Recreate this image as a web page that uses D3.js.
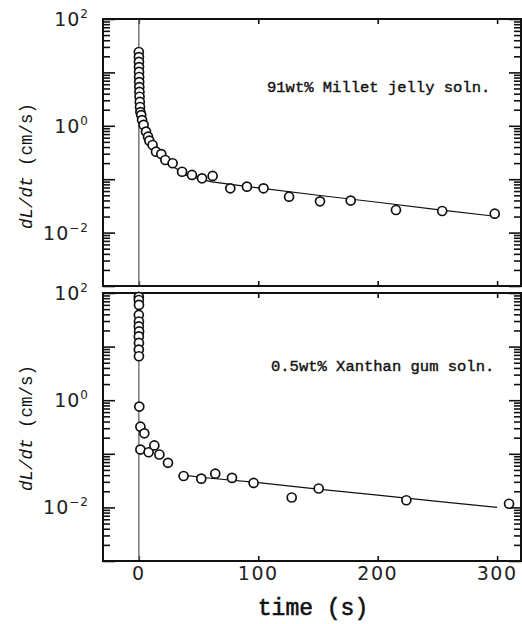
<!DOCTYPE html>
<html lang="en">
  <head>
    <meta charset="utf-8" />
    <title>dL/dt vs time</title>
    <script src="https://d3js.org/d3.v7.min.js"></script>
    <style>
      body { margin: 0; background: white; }
      .ticklab { font-family: "DejaVu Sans", sans-serif; fill: #222; }
      .mono { font-family: "Liberation Mono", "DejaVu Sans Mono", monospace; fill: #111; }
    </style>
  </head>
  <body>
    <svg width="522" height="624"></svg>
    <script type="text/javascript">
      // time axis ticks and y decade labels
      const timeTicks = [0, 100, 200, 300];
      const decadeLabels = [2, 0, -2];

      // 91 wt% millet jelly: measured points
      const milletTime = [0, 0.05, 0.1, 0.15, 0.2, 0.25, 0.3, 0.4, 0.5, 0.6, 0.8, 1.0, 1.3, 2.0,
        2.7, 4, 6, 7.7, 8.8, 11.5, 14.4, 18.8, 22.2, 28.3, 36.2, 44.5, 52.9, 61.8, 76.6, 90.5,
        104.4, 125.8, 151.7, 177.4, 215.3, 254, 298];
      const milletRate = [24.1, 19.4, 15.7, 12.6, 10.2, 8.2, 6.6, 5.3, 4.3, 3.5, 2.8, 2.25, 1.81, 1.59,
        1.28, 1.04, 0.78, 0.625, 0.526, 0.437, 0.327, 0.296, 0.229, 0.199, 0.138, 0.12, 0.104, 0.115,
        0.0675, 0.0725, 0.0675, 0.047, 0.0385, 0.0398, 0.0265, 0.0254, 0.0226];
      // millet fit curve
      const milletFitTime = [0.3, 0.6, 1, 2, 4, 7, 10, 15, 20, 30, 40, 60, 80, 100, 150, 200, 250, 300];
      const milletFitRate = [6.6, 3.6, 2.3, 1.45, 0.95, 0.64, 0.47, 0.33, 0.25, 0.165, 0.118, 0.09,
        0.078, 0.069, 0.05, 0.037, 0.027, 0.02];

      // 0.5 wt% xanthan gum: measured points
      const xanthanTime = [0, 0, 0.1, 0, 0.1, 0, 0.2, 0, 0.1, 0, 0.1, 0.4, 1.3, 4.6, 1.3, 8.2, 13,
        17.2, 24.4, 37.5, 52.3, 64, 78, 96.1, 128, 150.6, 224, 310];
      const xanthanRate = [85, 74, 60, 39, 29.4, 23.8, 19.2, 15.5, 11.7, 8.8, 6.6, 0.76, 0.32, 0.241,
        0.12, 0.107, 0.143, 0.097, 0.068, 0.0385, 0.0344, 0.0426, 0.0355, 0.0286, 0.0153, 0.0225,
        0.0136, 0.0117];
      // xanthan fit line
      const xanthanFitTime = [37, 60, 100, 150, 200, 250, 300];
      const xanthanFitRate = [0.04, 0.035, 0.029, 0.022, 0.017, 0.013, 0.01];

      const panelLabels = ["91wt% Millet jelly soln.", "0.5wt% Xanthan gum soln."];

      const svg = d3.select("svg");
      const left = 103, right = 521;

      const x = d3.scaleLinear().domain([-30, 320]).range([left, right]);

      const panels = [
        { top: 19, bottom: 286, t: milletTime, v: milletRate, ft: milletFitTime, fv: milletFitRate,
          label: panelLabels[0], labelX: 267, labelY: 92, titleY: 166 },
        { top: 293, bottom: 561, t: xanthanTime, v: xanthanRate, ft: xanthanFitTime, fv: xanthanFitRate,
          label: panelLabels[1], labelX: 271, labelY: 371, titleY: 428 },
      ];

      panels.forEach((p, pi) => {
        const y = d3.scaleLog().domain([1e-3, 1e2]).range([p.bottom, p.top]);
        const g = svg.append("g");

        const allTicks = y.ticks();
        const isMajor = (d) => Math.abs(Math.log10(d) - Math.round(Math.log10(d))) < 1e-6;
        const major = allTicks.filter(isMajor);
        const minor = allTicks.filter((d) => !isMajor(d));

        // y ticks, inward on both sides
        const addY = (axisFn, xPos, vals, len) => {
          g.append("g")
            .attr("transform", `translate(${xPos},0)`)
            .call(axisFn(y).tickValues(vals).tickSize(-len).tickFormat(""))
            .call((s) => s.select(".domain").remove())
            .call((s) => s.selectAll("line").attr("stroke", "#111").attr("stroke-width", 1.6));
        };
        addY(d3.axisLeft, left, major, 12);
        addY(d3.axisLeft, left, minor, 7);
        addY(d3.axisRight, right, major, 12);
        addY(d3.axisRight, right, minor, 7);

        // x ticks, inward top and bottom
        const addX = (axisFn, yPos) => {
          g.append("g")
            .attr("transform", `translate(0,${yPos})`)
            .call(axisFn(x).tickValues(timeTicks).tickSize(-5).tickFormat(""))
            .call((s) => s.select(".domain").remove())
            .call((s) => s.selectAll("line").attr("stroke", "#111").attr("stroke-width", 1.6));
        };
        addX(d3.axisBottom, p.bottom);
        addX(d3.axisTop, p.top);

        // zero-time line
        g.append("line")
          .attr("x1", x(0)).attr("x2", x(0))
          .attr("y1", p.top).attr("y2", p.bottom)
          .attr("stroke", "#777").attr("stroke-width", 1.5);

        // fit curve
        const fit = p.ft.map((t, i) => [t, p.fv[i]]);
        g.append("path")
          .datum(fit)
          .attr("fill", "none")
          .attr("stroke", "#111")
          .attr("stroke-width", 1.2)
          .attr("d", d3.line().x((d) => x(d[0])).y((d) => y(d[1])));

        // frame
        g.append("rect")
          .attr("x", left).attr("y", p.top)
          .attr("width", right - left).attr("height", p.bottom - p.top)
          .attr("fill", "none").attr("stroke", "#111").attr("stroke-width", 2);

        // markers
        const pts = p.t.map((t, i) => [t, p.v[i]]);
        g.append("g")
          .selectAll("circle")
          .data(pts)
          .join("circle")
          .attr("cx", (d) => x(d[0]))
          .attr("cy", (d) => y(d[1]))
          .attr("r", 4.5)
          .attr("fill", "white")
          .attr("stroke", "#111")
          .attr("stroke-width", 1.7);

        // decade labels 10^n
        const lab = g.append("g")
          .selectAll("text")
          .data(decadeLabels)
          .join("text")
          .attr("class", "ticklab")
          .attr("text-anchor", "end")
          .attr("x", 89)
          .attr("y", (d) => y(Math.pow(10, d)) + 7)
          .attr("font-size", "19px")
          .attr("letter-spacing", "1px");
        lab.append("tspan").text("10");
        lab.append("tspan")
          .attr("font-size", "12px")
          .attr("dy", "-8")
          .text((d) => (d < 0 ? "\u2212" + Math.abs(d) : d));

        // y title
        const yt = g.append("text")
          .attr("class", "mono")
          .attr("transform", `translate(32,${p.titleY}) rotate(-90)`)
          .attr("text-anchor", "middle")
          .attr("font-size", "17.5px");
        yt.append("tspan").attr("font-style", "italic").text("dL/dt");
        yt.append("tspan").text("  (cm/s)");

        // panel annotation
        g.append("text")
          .attr("class", "mono")
          .attr("x", p.labelX)
          .attr("y", p.labelY)
          .attr("font-size", "15.5px")
          .attr("stroke", "#111")
          .attr("stroke-width", 0.4)
          .text(p.label);

        if (pi === 1) {
          g.append("g")
            .selectAll("text")
            .data(timeTicks)
            .join("text")
            .attr("class", "ticklab")
            .attr("text-anchor", "middle")
            .attr("x", (d) => x(d))
            .attr("y", 580)
            .attr("font-size", "19px")
            .attr("letter-spacing", "1.5px")
            .text((d) => d);
        }
      });

      // x title
      svg.append("text")
        .attr("class", "mono")
        .attr("x", 313)
        .attr("y", 615)
        .attr("text-anchor", "middle")
        .attr("font-size", "23px")
        .attr("stroke", "#111")
        .attr("stroke-width", 0.6)
        .text("time (s)");
    </script>
  </body>
</html>
